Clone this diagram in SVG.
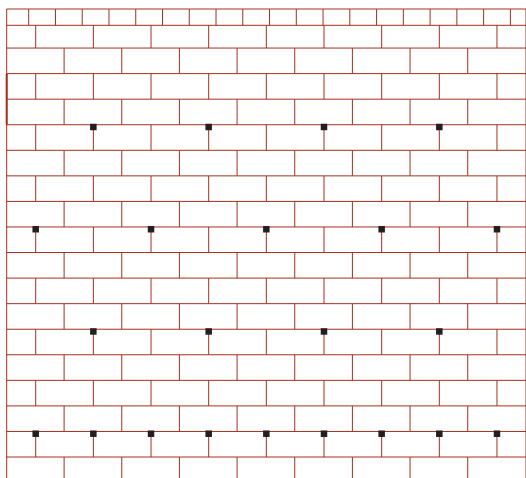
<svg xmlns="http://www.w3.org/2000/svg" xmlns:xlink="http://www.w3.org/1999/xlink" width="526" height="478" viewBox="0 0 526 478">
<style>
.ln{stroke:#a3301f;stroke-width:1;fill:none}
.thick{stroke:#a3301f;stroke-width:2;fill:none}
.dot{fill:#231f20}
</style>
<defs>
<path id="oddV" class="ln" d="M35.7 0v25.56M93.36 0v25.56M151.02 0v25.56M208.68 0v25.56M266.34 0v25.56M324 0v25.56M381.66 0v25.56M439.32 0v25.56M496.98 0v25.56"/>
<path id="evenV" class="ln" d="M64.1 0v25.56M121.76 0v25.56M179.42 0v25.56M237.08 0v25.56M294.74 0v25.56M352.4 0v25.56M410.06 0v25.56M467.72 0v25.56"/>
</defs>
<rect width="526" height="478" fill="#ffffff"/>
<g id="wall">
<g id="cap">
<path class="ln" d="M6.7 9H526M6.7 25.3H526"/>
<path class="ln" d="M28.7 9V25.3M55.46 9V25.3M82.22 9V25.3M108.98 9V25.3M135.74 9V25.3M162.5 9V25.3M189.26 9V25.3M216.02 9V25.3M242.78 9V25.3M269.54 9V25.3M296.3 9V25.3M323.06 9V25.3M349.82 9V25.3M376.58 9V25.3M403.34 9V25.3M430.1 9V25.3M456.86 9V25.3M483.62 9V25.3M510.38 9V25.3"/>
</g>
<g id="courses">
<path class="ln" d="M6.7 48.06H526M6.7 73.62H526M6.7 99.18H526M6.7 124.74H526M6.7 150.3H526M6.7 175.86H526M6.7 201.42H526M6.7 226.98H526M6.7 252.54H526M6.7 278.1H526M6.7 303.66H526M6.7 329.22H526M6.7 354.78H526M6.7 380.34H526M6.7 405.9H526M6.7 431.46H526M6.7 457.02H526"/>
<path class="ln" d="M35.7 25.3V48.06M93.36 25.3V48.06M151.02 25.3V48.06M208.68 25.3V48.06M266.34 25.3V48.06M324 25.3V48.06M381.66 25.3V48.06M439.32 25.3V48.06M496.98 25.3V48.06"/>
<use xlink:href="#evenV" href="#evenV" y="48.06"/>
<use xlink:href="#oddV" href="#oddV" y="73.62"/>
<use xlink:href="#evenV" href="#evenV" y="99.18"/>
<use xlink:href="#oddV" href="#oddV" y="124.74"/>
<use xlink:href="#evenV" href="#evenV" y="150.3"/>
<use xlink:href="#oddV" href="#oddV" y="175.86"/>
<use xlink:href="#evenV" href="#evenV" y="201.42"/>
<use xlink:href="#oddV" href="#oddV" y="226.98"/>
<use xlink:href="#evenV" href="#evenV" y="252.54"/>
<use xlink:href="#oddV" href="#oddV" y="278.1"/>
<use xlink:href="#evenV" href="#evenV" y="303.66"/>
<use xlink:href="#oddV" href="#oddV" y="329.22"/>
<use xlink:href="#evenV" href="#evenV" y="354.78"/>
<use xlink:href="#oddV" href="#oddV" y="380.34"/>
<use xlink:href="#evenV" href="#evenV" y="405.9"/>
<use xlink:href="#oddV" href="#oddV" y="431.46"/>
<use xlink:href="#evenV" href="#evenV" y="457.02"/>
</g>
<g id="edges">
<path class="ln" d="M6.7 9V478M526 9V478"/>
<path class="thick" d="M6.7 73.62V124.74"/>
</g>
</g>
<g id="anchors">
<rect class="dot" x="90.1" y="123.74" width="6.5" height="6.5"/>
<rect class="dot" x="205.43" y="123.74" width="6.5" height="6.5"/>
<rect class="dot" x="320.75" y="123.74" width="6.5" height="6.5"/>
<rect class="dot" x="436.07" y="123.74" width="6.5" height="6.5"/>
<rect class="dot" x="32.45" y="225.98" width="6.5" height="6.5"/>
<rect class="dot" x="147.77" y="225.98" width="6.5" height="6.5"/>
<rect class="dot" x="263.09" y="225.98" width="6.5" height="6.5"/>
<rect class="dot" x="378.41" y="225.98" width="6.5" height="6.5"/>
<rect class="dot" x="493.73" y="225.98" width="6.5" height="6.5"/>
<rect class="dot" x="90.1" y="328.22" width="6.5" height="6.5"/>
<rect class="dot" x="205.43" y="328.22" width="6.5" height="6.5"/>
<rect class="dot" x="320.75" y="328.22" width="6.5" height="6.5"/>
<rect class="dot" x="436.07" y="328.22" width="6.5" height="6.5"/>
<rect class="dot" x="32.45" y="430.46" width="6.5" height="6.5"/>
<rect class="dot" x="90.1" y="430.46" width="6.5" height="6.5"/>
<rect class="dot" x="147.77" y="430.46" width="6.5" height="6.5"/>
<rect class="dot" x="205.43" y="430.46" width="6.5" height="6.5"/>
<rect class="dot" x="263.09" y="430.46" width="6.5" height="6.5"/>
<rect class="dot" x="320.75" y="430.46" width="6.5" height="6.5"/>
<rect class="dot" x="378.41" y="430.46" width="6.5" height="6.5"/>
<rect class="dot" x="436.07" y="430.46" width="6.5" height="6.5"/>
<rect class="dot" x="493.73" y="430.46" width="6.5" height="6.5"/>
</g>
</svg>
